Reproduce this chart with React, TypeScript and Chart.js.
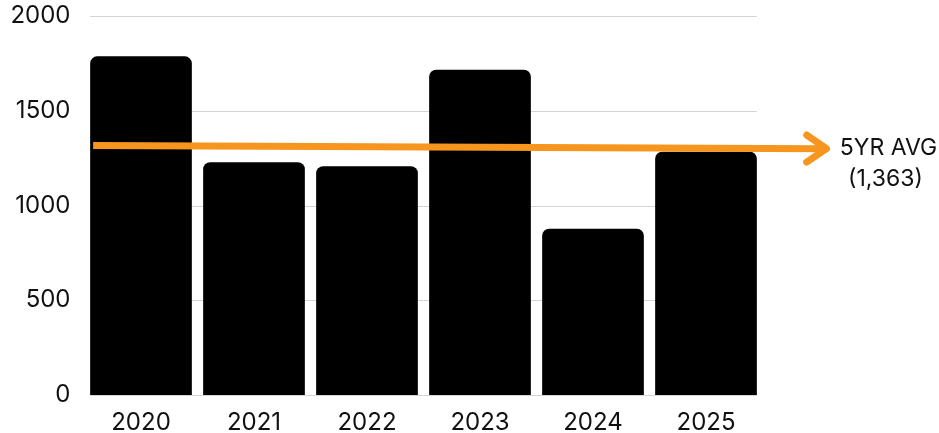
import React, { useEffect, useRef } from "react";
import { Chart, registerables } from "chart.js";

Chart.register(...registerables);

const categories = ["2020", "2021", "2022", "2023", "2024", "2025"];
const values = [1787, 1228, 1207, 1716, 877, 1284];
const yTicks = [0, 500, 1000, 1500, 2000];
const avgValue = 1363;
const avgTitle = "5YR AVG";
const arrowValues = [1317, 1300]; // arrow start / arrow tip (as drawn)

const FONT = "Inter, 'Noto Sans', sans-serif";
const ORANGE = "#F7961F";

const overlayPlugin = {
  id: "overlay",
  beforeDatasetsDraw(chart: any) {
    const meta = chart.getDatasetMeta(0);
    const first = meta.data[0];
    const last = meta.data[meta.data.length - 1];
    const x0 = first.x - first.width / 2;
    const x1 = last.x + last.width / 2;
    const y = chart.scales.y;
    const ctx = chart.ctx;
    ctx.save();
    ctx.strokeStyle = "#d4d4d4";
    ctx.lineWidth = 1;
    yTicks.forEach((t) => {
      const py = Math.round(y.getPixelForValue(t)) + 0.5;
      ctx.beginPath();
      ctx.moveTo(x0, py);
      ctx.lineTo(x1, py);
      ctx.stroke();
    });
    ctx.restore();
  },
  afterDatasetsDraw(chart: any) {
    const meta = chart.getDatasetMeta(0);
    const first = meta.data[0];
    const y = chart.scales.y;
    const area = chart.chartArea;
    const ctx = chart.ctx;
    const xs = first.x - first.width / 2 + 3;
    const xt = area.right + 64;
    const ys = y.getPixelForValue(arrowValues[0]);
    const yt = y.getPixelForValue(arrowValues[1]);
    const ang = Math.atan2(yt - ys, xt - xs);
    ctx.save();
    ctx.strokeStyle = ORANGE;
    ctx.lineWidth = 7;
    ctx.lineCap = "butt";
    ctx.beginPath();
    ctx.moveTo(xs, ys);
    ctx.lineTo(xt - 3 * Math.cos(ang), yt - 3 * Math.sin(ang));
    ctx.stroke();
    ctx.lineCap = "round";
    ctx.lineJoin = "round";
    const armLen = 24;
    const armAng = 0.6;
    ctx.beginPath();
    ctx.moveTo(xt - armLen * Math.cos(ang - armAng), yt - armLen * Math.sin(ang - armAng));
    ctx.lineTo(xt, yt);
    ctx.lineTo(xt - armLen * Math.cos(ang + armAng), yt - armLen * Math.sin(ang + armAng));
    ctx.stroke();
    ctx.fillStyle = "#111";
    ctx.font = `23px ${FONT}`;
    ctx.textAlign = "center";
    ctx.textBaseline = "middle";
    ctx.fillText(avgTitle, xt + 62, yt - 1);
    ctx.fillText(`(${avgValue.toLocaleString("en-US")})`, xt + 59, yt + 30);
    ctx.restore();
  },
};

export default function App() {
  const ref = useRef<HTMLCanvasElement>(null);
  useEffect(() => {
    document.body.style.margin = "0";
    const chart = new Chart(ref.current as HTMLCanvasElement, {
      type: "bar",
      data: {
        labels: categories,
        datasets: [
          {
            data: values,
            backgroundColor: "#000000",
            borderRadius: { topLeft: 7, topRight: 7, bottomLeft: 0, bottomRight: 0 },
            borderSkipped: false,
            barPercentage: 0.9,
            categoryPercentage: 1,
          },
        ],
      },
      options: {
        responsive: false,
        animation: false,
        layout: { padding: { left: 0, right: 176.5, top: 16, bottom: 0 } },
        plugins: { legend: { display: false }, tooltip: { enabled: false } },
        scales: {
          x: {
            grid: { display: false },
            border: { display: false },
            ticks: { color: "#111", font: { family: FONT, size: 24 }, padding: 5, maxRotation: 0 },
            afterFit: (s: any) => {
              s.height = 38;
            },
          },
          y: {
            min: 0,
            max: 2000,
            afterBuildTicks: (s: any) => {
              s.ticks = yTicks.map((v) => ({ value: v }));
            },
            grid: { display: false },
            border: { display: false },
            ticks: {
              color: "#111",
              font: { family: FONT, size: 24 },
              padding: 6,
              callback: (v: any) => String(v),
            },
            afterFit: (s: any) => {
              s.width = 84.5;
              s.paddingTop = 0;
              s.paddingBottom = 0;
            },
          },
        },
      },
      plugins: [overlayPlugin],
    });
    return () => chart.destroy();
  }, []);
  return <canvas ref={ref} width={939} height={433} style={{ display: "block" }} />;
}
